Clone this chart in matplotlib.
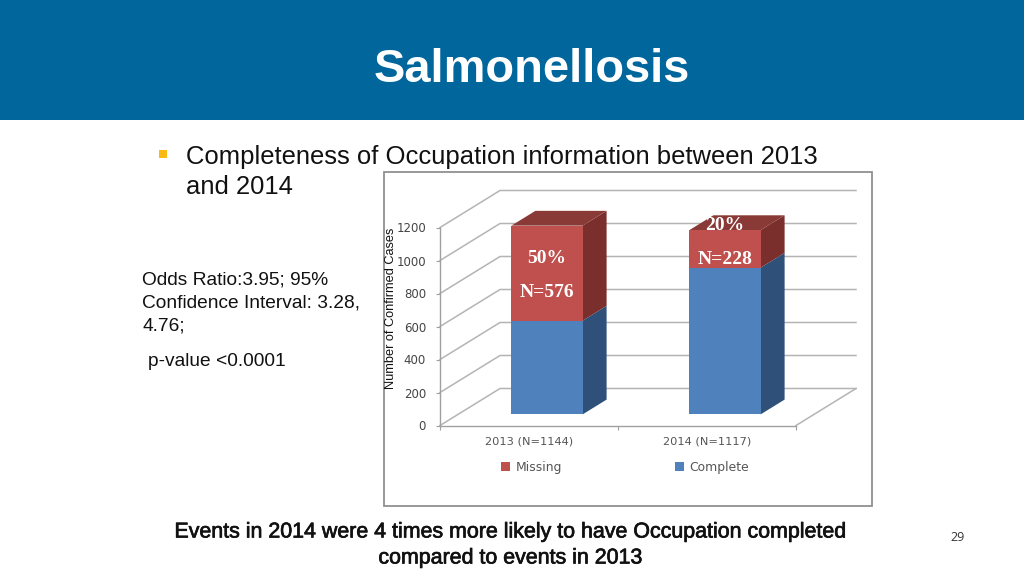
import matplotlib
matplotlib.use("Agg")
import matplotlib.pyplot as plt
import matplotlib.patheffects as pe
from matplotlib.patches import Polygon, Rectangle
from matplotlib.lines import Line2D
from matplotlib.transforms import Affine2D, IdentityTransform

# ---- data ----
categories = ["2013 (N=1144)", "2014 (N=1117)"]
complete = [568, 889]
missing = [576, 228]
pct_labels = ["50%", "20%"]
n_labels = ["N=576", "N=228"]
pct_values = [945, 1145]
n_values = [740, 940]
y_ticks = [0, 200, 400, 600, 800, 1000, 1200]
series_names = ["Missing", "Complete"]

# ---- style ----
W, H = 1024, 576
SANS = "Liberation Sans"
WALL = (60, 37)
BAR_FRONT = 0.30
BAR_BACK = 0.70
BAR_WIDTH = 0.40
GRID = "#b4b4b4"
RED, RED_SIDE, RED_TOP = "#C0504D", "#7A2F2D", "#8A3A36"
BLUE, BLUE_SIDE = "#4F81BD", "#2F5079"
INK = "#111111"

fig = plt.figure(figsize=(W / 100, H / 100), dpi=100, facecolor="white")


def fx(x):
    return x / W


def fy(y):
    return 1 - y / H


fig.patches.append(Rectangle((0, fy(120)), 1, 120 / H, transform=fig.transFigure,
                             facecolor="#00669C", edgecolor="none", zorder=-2))
fig.patches.append(Rectangle((fx(384), fy(506)), 488 / W, 334 / H, transform=fig.transFigure,
                             facecolor="white", edgecolor="#909090", linewidth=1.3, zorder=-1))
fig.patches.append(Rectangle((fx(159), fy(158)), 8 / W, 8 / H, transform=fig.transFigure,
                             facecolor="#FDB913", edgecolor="none", zorder=-1))

fig.text(fx(531.5), fy(70), "Salmonellosis", family=SANS, weight="bold", size=33.8,
         color="white", ha="center", va="center")
fig.text(fx(186), fy(157), "Completeness of Occupation information between 2013",
         family=SANS, size=18.45, color=INK, va="center")
fig.text(fx(186), fy(187), "and 2014", family=SANS, size=18.45, color=INK, va="center")
fig.text(fx(142.5), fy(280), "Odds Ratio:3.95; 95%", family=SANS, size=13.75, color=INK, va="center")
fig.text(fx(142.5), fy(303), "Confidence Interval: 3.28,", family=SANS, size=13.75, color=INK, va="center")
fig.text(fx(142.5), fy(326), "4.76;", family=SANS, size=13.75, color=INK, va="center")
fig.text(fx(148), fy(361), "p-value <0.0001", family=SANS, size=13.75, color=INK, va="center")
for y, line in [(532, "Events in 2014 were 4 times more likely to have Occupation completed"),
                (558, "compared to events in 2013")]:
    fig.text(fx(510.5), fy(y), line, family=SANS, size=15.4, color=INK, ha="center", va="center",
             path_effects=[pe.withStroke(linewidth=0.5, foreground=INK)])
fig.text(fx(957.5), fy(537.5), "29", family="Open Sans", size=9, color="#333333", ha="center", va="center")
fig.text(fx(391), fy(308), "Number of Confirmed Cases", family=SANS, size=9.2, color=INK,
         rotation=90, ha="center", va="center")

# axes whose rectangle is the front plane of the 3-D box
ax = fig.add_axes([fx(440), fy(425.5), 356 / W, 198 / H])
ax.patch.set_visible(False)
ax.set_xlim(0, 2)
ax.set_ylim(0, 1200)
for s in ("top", "right"):
    ax.spines[s].set_visible(False)
for s in ("left", "bottom"):
    ax.spines[s].set_color("#a0a0a0")
    ax.spines[s].set_linewidth(1.0)
centers = [i + 0.5 for i in range(len(categories))]
ax.set_xticks([0, 1, 2])
ax.set_xticklabels([])
ax.set_xticks(centers, minor=True)
ax.set_xticklabels(categories, minor=True, family="DejaVu Sans", size=8.2, color="#555555")
ax.tick_params(axis="x", which="major", length=3, color="#a0a0a0")
ax.tick_params(axis="x", which="minor", length=0, pad=8)
ax.set_yticks(y_ticks)
ax.set_yticklabels([str(v) for v in y_ticks], family="DejaVu Sans", size=8.5, color="#444444")
ax.tick_params(axis="y", length=3, color="#a0a0a0", pad=7)


def project(x, v, depth):
    px, py = ax.transData.transform((x, v))
    return (px + depth * WALL[0], py + depth * WALL[1])


identity = IdentityTransform()


def face(points, color, z):
    ax.add_patch(Polygon(points, closed=True, facecolor=color, edgecolor="none",
                         transform=identity, clip_on=False, zorder=z))


# gridlines: side wall plus back wall
for v in y_ticks:
    a = project(0, v, 0)
    b = project(0, v, 1)
    c = project(2, v, 1)
    ax.add_line(Line2D([a[0], b[0], c[0]], [a[1], b[1], c[1]], color=GRID, lw=1.1,
                       transform=identity, clip_on=False, zorder=1))
# right edge of the floor
a, b = project(2, 0, 0), project(2, 0, 1)
ax.add_line(Line2D([a[0], b[0]], [a[1], b[1]], color=GRID, lw=1.1,
                   transform=identity, clip_on=False, zorder=1))

# bars: side and top faces, then front faces through the axes' own scale
front_shift = Affine2D().translate(BAR_FRONT * WALL[0], BAR_FRONT * WALL[1])
front_tf = ax.transData + front_shift
for x, c_val, m_val in zip(centers, complete, missing):
    x1 = x + BAR_WIDTH / 2
    x0 = x - BAR_WIDTH / 2
    total = c_val + m_val
    face([project(x1, 0, BAR_FRONT), project(x1, c_val, BAR_FRONT),
          project(x1, c_val, BAR_BACK), project(x1, 0, BAR_BACK)], BLUE_SIDE, 3)
    face([project(x1, c_val, BAR_FRONT), project(x1, total, BAR_FRONT),
          project(x1, total, BAR_BACK), project(x1, c_val, BAR_BACK)], RED_SIDE, 3)
    face([project(x0, total, BAR_FRONT), project(x1, total, BAR_FRONT),
          project(x1, total, BAR_BACK), project(x0, total, BAR_BACK)], RED_TOP, 3)

complete_bars = ax.bar(centers, complete, BAR_WIDTH, color=BLUE, zorder=4, label=series_names[1])
missing_bars = ax.bar(centers, missing, BAR_WIDTH, bottom=complete, color=RED, zorder=4,
                      label=series_names[0])
for bar in list(complete_bars) + list(missing_bars):
    bar.set_transform(front_tf)
    bar.set_clip_on(False)

for x, p, n, pv, nv in zip(centers, pct_labels, n_labels, pct_values, n_values):
    ax.text(x, pv, p, transform=front_tf, family="Liberation Serif", weight="bold", size=14,
            color="white", ha="center", va="center", zorder=6, clip_on=False)
    ax.text(x, nv, n, transform=front_tf, family="Liberation Serif", weight="bold", size=14,
            color="white", ha="center", va="center", zorder=6, clip_on=False)

leg = fig.legend(handles=[missing_bars, complete_bars], labels=series_names, ncol=2,
                 loc="center", bbox_to_anchor=(fx(625), fy(467)), frameon=False,
                 prop={"family": "DejaVu Sans", "size": 8.9}, labelcolor="#555555",
                 handlelength=0.75, handleheight=0.75, handletextpad=0.45, columnspacing=9.1,
                 borderpad=0, borderaxespad=0)

fig.savefig("out.png", dpi=100)
